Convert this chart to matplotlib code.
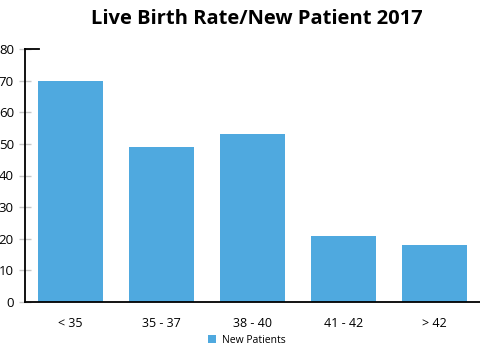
import numpy as np
import matplotlib.pyplot as plt

plt.rcParams['font.family'] = ['Open Sans', 'DejaVu Sans']

categories = ['< 35', '35 - 37', '38 - 40', '41 - 42', '> 42']
new_patients = [70, 49, 53, 21, 18]

fig = plt.figure(figsize=(4.8, 3.45), dpi=100)
ax = fig.add_axes([25/480, 43/345, 455/480, 253/345])

x = np.arange(len(categories))
ax.bar(x, new_patients, width=0.72, color='#4FA9DF', label='New Patients', zorder=2)

ax.set_xlim(-0.5, 4.5)
ax.set_ylim(0, 80)
ax.set_yticks(range(0, 81, 10))
ax.set_xticks(x)
ax.set_xticklabels(categories)

for s in ['top', 'right']:
    ax.spines[s].set_visible(False)
ax.spines['left'].set_linewidth(1.3)
ax.spines['bottom'].set_linewidth(1.3)

ax.tick_params(axis='y', direction='inout', length=8, width=1, color='#c8c8c8',
               labelsize=9.5, pad=4)
ax.tick_params(axis='x', length=0, labelsize=9, pad=11)
# black top tick
ax.plot([0, 0.03], [80, 80], color='black', lw=1.3, transform=ax.get_yaxis_transform(),
        clip_on=False)

fig.text(0.535, 0.975, 'Live Birth Rate/New Patient 2017', fontsize=14.5,
         fontweight='bold', ha='center', va='top')

ax.legend(loc='lower center', bbox_to_anchor=(0.488, -0.21), frameon=False,
          fontsize=7.5, handlelength=0.8, handleheight=0.8, handletextpad=0.6)

fig.savefig('out.png', dpi=100)
